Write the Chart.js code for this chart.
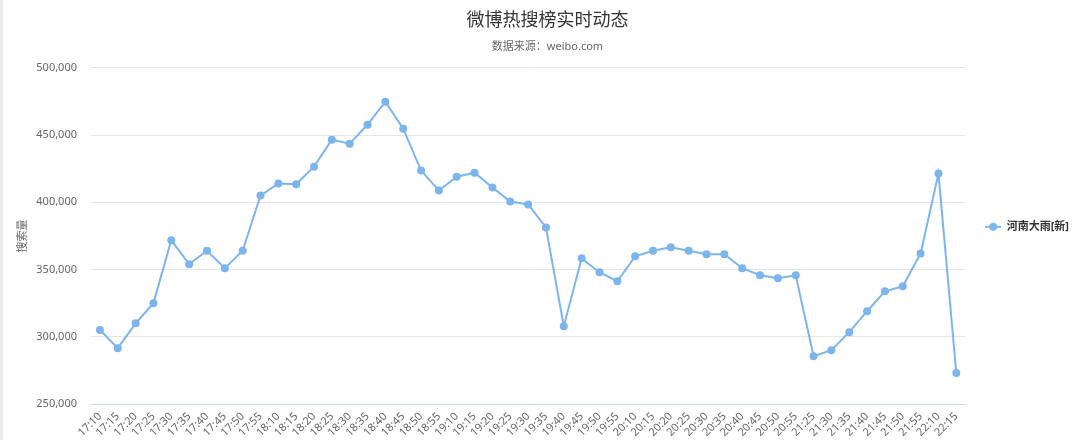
<!DOCTYPE html>
<html>
<head>
<meta charset="utf-8">
<script src="https://cdn.jsdelivr.net/npm/chart.js@4"></script>
<style>
  html, body { margin: 0; padding: 0; background: #fff; }
  #wrap { position: relative; width: 1080px; height: 440px; }
  #edge { position: absolute; left: 0; top: 0; width: 3px; height: 440px; background: #ebebeb; }
</style>
</head>
<body>
<div id="wrap">
  <canvas id="hotChart" width="1080" height="440"></canvas>
  <div id="edge"></div>
</div>
<script>
const times = ['17:10', '17:15', '17:20', '17:25', '17:30', '17:35', '17:40', '17:45', '17:50', '17:55',
  '18:10', '18:15', '18:20', '18:25', '18:30', '18:35', '18:40', '18:45', '18:50', '18:55',
  '19:10', '19:15', '19:20', '19:25', '19:30', '19:35', '19:40', '19:45', '19:50', '19:55',
  '20:10', '20:15', '20:20', '20:25', '20:30', '20:35', '20:40', '20:45', '20:50', '20:55',
  '21:25', '21:30', '21:35', '21:40', '21:45', '21:50', '21:55', '22:10', '22:15'];
const heat = [305000, 291500, 310000, 325000, 371700, 354000, 364000, 351000, 364000, 405000,
  414000, 413500, 426500, 446500, 443600, 457700, 474800, 454700, 423600, 408800,
  419000, 422000, 411000, 400600, 398400, 381300, 307900, 358300, 348000, 341300,
  359800, 364000, 366500, 364000, 361300, 361300, 351000, 345700, 343500, 345700,
  285600, 290000, 303400, 319000, 333800, 337500, 362000, 421400, 273000];
const seriesName = '河南大雨[新]';
const yTicks = [250000, 300000, 350000, 400000, 450000, 500000];

const FONT = '"Noto Sans", "Noto Sans CJK SC", sans-serif';
const lineColor = '#7cb5ec';

// legend symbol: short line with a dot in the middle
const sym = document.createElement('canvas');
sym.width = 16; sym.height = 10;
const sctx = sym.getContext('2d');
sctx.strokeStyle = lineColor; sctx.lineWidth = 2;
sctx.beginPath(); sctx.moveTo(0, 5); sctx.lineTo(16, 5); sctx.stroke();
sctx.fillStyle = lineColor;
sctx.beginPath(); sctx.arc(8, 5, 4, 0, Math.PI * 2); sctx.fill();

const ctx = document.getElementById('hotChart').getContext('2d');
new Chart(ctx, {
  type: 'line',
  data: {
    labels: times,
    datasets: [{
      label: seriesName,
      data: heat,
      borderColor: lineColor,
      backgroundColor: lineColor,
      borderWidth: 2,
      pointRadius: 4,
      pointHoverRadius: 5,
      pointBorderWidth: 0,
      pointStyle: 'circle',
      tension: 0
    }]
  },
  options: {
    responsive: false,
    animation: false,
    layout: { padding: { left: 16, right: 1, top: 4, bottom: 0 } },
    plugins: {
      title: {
        display: true,
        text: '微博热搜榜实时动态',
        color: '#333333',
        font: { family: FONT, size: 18, weight: 'normal' },
        padding: { top: 6, bottom: 9 }
      },
      subtitle: {
        display: true,
        text: '数据来源：weibo.com',
        color: '#666666',
        font: { family: FONT, size: 11 },
        padding: { top: 0, bottom: 14 }
      },
      legend: {
        position: 'right',
        title: { display: true, text: ' ', font: { size: 8 }, padding: 0 },
        labels: {
          usePointStyle: true,
          pointStyle: sym,
          pointStyleWidth: 16,
          color: '#333333',
          font: { family: FONT, size: 11, weight: 'bold' },
          padding: 20
        }
      },
      tooltip: { enabled: false }
    },
    scales: {
      x: {
        offset: true,
        grid: { display: false, drawTicks: false },
        border: { color: '#ccd6eb', width: 1 },
        afterFit: axis => { axis.height = 36; },
        ticks: {
          autoSkip: false,
          minRotation: 45,
          maxRotation: 45,
          padding: 6,
          color: '#666666',
          font: { family: FONT, size: 11 }
        }
      },
      y: {
        min: yTicks[0],
        max: yTicks[yTicks.length - 1],
        afterBuildTicks: axis => { axis.ticks = yTicks.map(v => ({ value: v })); },
        afterFit: axis => { axis.width = 75; },
        grid: { color: '#e6e6e6', drawTicks: false },
        border: { display: false },
        title: {
          display: true,
          text: '搜索量',
          color: '#666666',
          font: { family: FONT, size: 11 },
          padding: { top: 0, bottom: 0 }
        },
        ticks: {
          padding: 14,
          color: '#666666',
          font: { family: FONT, size: 11 },
          callback: v => v.toLocaleString('en-US')
        }
      }
    }
  }
});
</script>
</body>
</html>
